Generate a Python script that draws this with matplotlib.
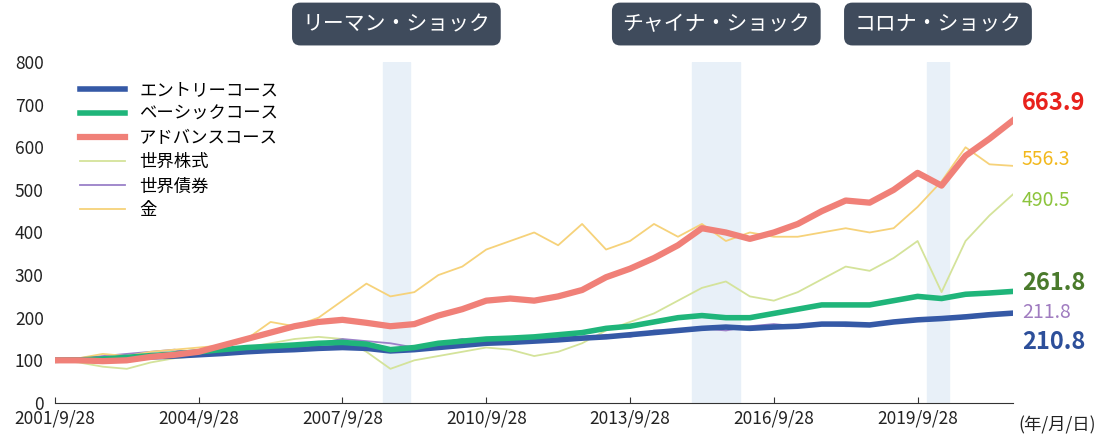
import matplotlib.pyplot as plt
import numpy as np

plt.rcParams["font.family"] = "Noto Sans CJK JP"

# semi-annual points from 2001/9/28 to 2021/9/28
t = 2001.75 + 0.5 * np.arange(41)

entry = [100, 101, 102, 105, 108, 110, 113, 116, 120, 123, 125, 128, 130, 128, 122, 125, 130, 135, 140, 142,
         145, 148, 152, 155, 160, 165, 170, 175, 178, 175, 178, 180, 185, 185, 183, 190, 195, 198, 202, 207, 210.8]
basic = [100, 101, 103, 107, 111, 115, 120, 125, 130, 133, 136, 140, 142, 138, 125, 130, 140, 145, 150, 152,
         155, 160, 165, 175, 180, 190, 200, 205, 200, 200, 210, 220, 230, 230, 230, 240, 250, 245, 255, 258, 261.8]
advance = [100, 100, 98, 100, 108, 113, 120, 135, 150, 165, 180, 190, 195, 188, 180, 185, 205, 220, 240, 245,
           240, 250, 265, 295, 315, 340, 370, 410, 400, 385, 400, 420, 450, 475, 470, 500, 540, 510, 580, 620, 663.9]
stocks = [100, 95, 85, 80, 95, 105, 110, 120, 130, 140, 150, 155, 150, 120, 80, 100, 110, 120, 130, 125,
          110, 120, 140, 170, 190, 210, 240, 270, 285, 250, 240, 260, 290, 320, 310, 340, 380, 260, 380, 440, 490.5]
bonds = [100, 105, 110, 115, 120, 125, 115, 120, 125, 130, 135, 140, 150, 145, 140, 130, 140, 150, 140, 150,
         155, 160, 150, 160, 155, 170, 170, 175, 170, 180, 185, 180, 185, 180, 180, 190, 195, 200, 205, 210, 211.8]
gold = [100, 105, 115, 110, 120, 125, 130, 135, 150, 190, 180, 200, 240, 280, 250, 260, 300, 320, 360, 380,
        400, 370, 420, 360, 380, 420, 390, 420, 380, 400, 390, 390, 400, 410, 400, 410, 460, 520, 600, 560, 556.3]

tick_labels = ["2001/9/28", "2004/9/28", "2007/9/28", "2010/9/28", "2013/9/28", "2016/9/28", "2019/9/28"]
shocks = [("リーマン・ショック", 2008.6, 2009.15), ("チャイナ・ショック", 2015.05, 2016.05),
          ("コロナ・ショック", 2019.95, 2020.4)]

fig = plt.figure(figsize=(10.98, 4.37), dpi=100)
ax = fig.add_axes([0.05, 0.078, 0.873, 0.78])

for name, a, b in shocks:
    ax.axvspan(a, b, color="#e8f0f8", zorder=0)

ax.plot(t, stocks, color="#d4e39a", lw=1.3, label="世界株式", zorder=2)
ax.plot(t, bonds, color="#9a80c8", lw=1.3, label="世界債券", zorder=2)
ax.plot(t, gold, color="#f6d27a", lw=1.3, label="金", zorder=2)
ax.plot(t, entry, color="#3559a6", lw=4, label="エントリーコース", zorder=3)
ax.plot(t, basic, color="#1fb57a", lw=4, label="ベーシックコース", zorder=3)
ax.plot(t, advance, color="#f08078", lw=4.5, label="アドバンスコース", zorder=4)

ax.set_xlim(2001.75, 2021.75)
ax.set_ylim(0, 800)
ax.set_yticks(range(0, 801, 100))
ax.set_xticks(2001.75 + 3 * np.arange(len(tick_labels)))
ax.set_xticklabels(tick_labels)
ax.tick_params(labelsize=12.5, length=0, colors="#222222")
ax.tick_params(axis="y", pad=8)
ax.tick_params(axis="x", length=4, direction="in", color="#333333", pad=5)
for s in ["top", "right", "left"]:
    ax.spines[s].set_visible(False)
ax.spines["bottom"].set_color("#333333")
ax.text(1.005, -0.065, "(年/月/日)", transform=ax.transAxes, fontsize=12.5, va="center", color="#222222")

h, l = ax.get_legend_handles_labels()
order = [3, 4, 5, 0, 1, 2]
ax.legend([h[i] for i in order], [l[i] for i in order], loc="upper left", bbox_to_anchor=(0.01, 0.99),
          frameon=False, fontsize=12.5, handlelength=2.6, labelspacing=0.35)

for name, a, b in shocks:
    x = fig.transFigure.inverted().transform(ax.transData.transform(((a + b) / 2, 0)))[0]
    fig.text(x, 0.945, name, ha="center", va="center", color="white", fontsize=15,
             bbox=dict(boxstyle="round,pad=0.5,rounding_size=0.4", fc="#3f4b5c", ec="none"))

ends = [("663.9", 103, "#e8221c", 17, "bold"), ("556.3", 160, "#f2b81c", 14, "normal"),
        ("490.5", 200, "#8cc43c", 14, "normal"), ("261.8", 283, "#4a7a2c", 17, "bold"),
        ("211.8", 313, "#a07cc0", 14, "normal"), ("210.8", 342, "#2d4f9a", 17, "bold")]
for txt, py, c, fs, fw in ends:
    fig.text(1022 / 1098, 1 - py / 437, txt, color=c, fontsize=fs, fontweight=fw, va="center")

fig.savefig("out.png", dpi=100)
